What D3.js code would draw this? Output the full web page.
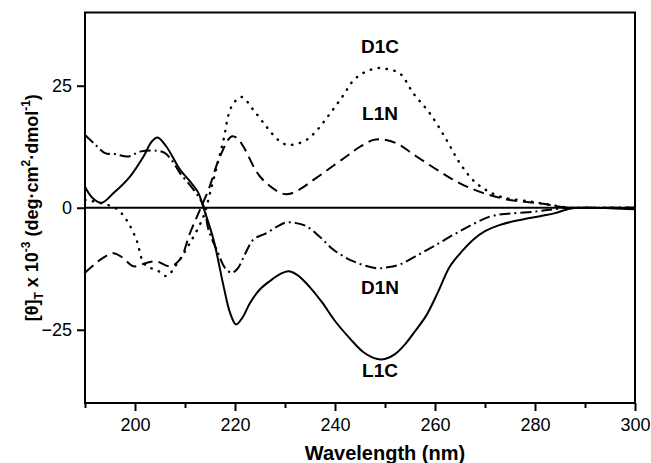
<!DOCTYPE html>
<html>
<head>
<meta charset="utf-8">
<script src="https://cdn.jsdelivr.net/npm/d3@7"></script>
<style>
  body { margin: 0; background: #fff; }
  svg { font-family: "Liberation Sans", Arial, sans-serif; }
  .axis path, .axis line { stroke: #000; stroke-width: 2px; }
  .axis text { font-size: 18px; fill: #000; }
</style>
</head>
<body>
<div id="chart"></div>
<script>
// CD spectra, wavelength (nm) vs [θ] x 10^-3
const l1cWl  = [190, 191.5, 193.3, 195.7, 199, 201.7, 203.3, 204.5, 206.3, 209, 211, 212.7, 213.7, 215.7, 217.7, 219, 220.2, 221.5, 223, 225, 227, 229, 230.7, 232.5, 235, 237.5, 240, 243, 245.7, 248.5, 250, 252, 254, 256, 258.3, 260.5, 263, 265.5, 267.7, 270, 273, 277, 281.7, 284, 287, 290, 295, 300];
const l1cVal = [4.3, 2.0, 1.0, 3.0, 6.4, 10.5, 13.5, 14.4, 12.5, 7.8, 5.4, 3.0, 0, -6.5, -16.0, -21.5, -23.9, -22.5, -19.5, -16.7, -15.0, -13.6, -13.0, -13.8, -16.3, -19.5, -23.2, -26.8, -29.6, -31.0, -31.0, -30.0, -28.0, -25.3, -22.0, -17.5, -12.0, -8.8, -6.5, -4.8, -3.5, -2.5, -1.6, -1.1, -0.2, 0, -0.1, -0.3];

const d1nWl  = [190, 192, 194, 196, 198.7, 201, 204.3, 206, 207.5, 209, 211.7, 213.7, 214.7, 216.5, 218, 219.3, 220.5, 222, 223.7, 226.3, 228.5, 230.3, 232, 234.3, 237, 239.7, 243.7, 248.3, 250.5, 253, 256, 259.7, 265, 271, 275, 280, 283, 287, 290, 300];
const d1nVal = [14.9, 13.0, 11.2, 11.0, 10.5, 11.5, 11.7, 11.2, 9.5, 7.1, 3.7, 0.4, -4.5, -9.0, -12.3, -13.3, -12.5, -9.5, -6.5, -5.2, -3.8, -3.0, -3.1, -3.8, -6.0, -8.6, -11.0, -12.4, -12.2, -11.6, -10.0, -7.9, -4.8, -1.8, -1.2, -0.8, -0.4, 0, 0, 0];

const d1cWl  = [190, 193, 196.3, 198.3, 200.3, 201.7, 203, 204.3, 206.3, 208.3, 211, 213.7, 215, 216.5, 217.7, 219.3, 221.3, 223.7, 226.3, 228.5, 230.3, 232, 234.3, 236.5, 239, 241.5, 243.7, 246, 248.5, 250.5, 253, 255.7, 259, 262.3, 265, 268.3, 273, 279, 283, 287, 290, 300];
const d1cVal = [1.6, 1.0, -0.2, -2.5, -6.6, -11.3, -12.3, -12.7, -14.0, -11.6, -7.2, -1.8, 3.0, 9.0, 13.9, 20.7, 22.7, 20.0, 16.6, 14.0, 12.9, 13.0, 13.9, 16.0, 19.3, 22.8, 26.1, 27.8, 28.6, 28.4, 27.5, 23.4, 19.3, 13.9, 9.1, 5.0, 2.3, 1.3, 0.6, 0, 0, 0];

const l1nWl  = [190, 192, 194, 195.7, 197.5, 199.7, 202.3, 204.3, 207, 209, 211, 213, 214.7, 217, 219.3, 220.5, 221.7, 225, 229, 230.7, 233, 235.7, 241.7, 245, 247.7, 249.5, 252.3, 256.3, 261, 265, 269.7, 275, 281.7, 285, 288, 300];
const l1nVal = [-13.3, -11.5, -10.0, -9.3, -10.2, -12.0, -11.3, -11.0, -12.0, -10.6, -5.2, -0.4, 3.7, 10.5, 14.6, 14.2, 12.5, 6.4, 3.1, 2.8, 3.8, 5.7, 10.1, 12.5, 13.9, 14.0, 13.2, 10.5, 7.4, 5.0, 3.0, 1.6, 0.8, 0.2, 0, 0];

const xMajor = [200, 220, 240, 260, 280, 300];
const xMinor = [190, 210, 230, 250, 270, 290];
const yTicks = [-25, 0, 25];

const series = [
    { name: 'L1C', wl: l1cWl, val: l1cVal, dash: null },
    { name: 'D1N', wl: d1nWl, val: d1nVal, dash: '11,4,2,4' },
    { name: 'D1C', wl: d1cWl, val: d1cVal, dash: '0.5,7.5' },
    { name: 'L1N', wl: l1nWl, val: l1nVal, dash: '11,6' }
];

const labels = [
    { text: 'D1C', wl: 249, v: 31.8 },
    { text: 'L1N', wl: 249, v: 18.0 },
    { text: 'D1N', wl: 249, v: -17.6 },
    { text: 'L1C', wl: 249, v: -34.6 }
];

const W = 651, H = 463;
const margin = { top: 12.5, right: 16, bottom: 60, left: 85 };
const width = W - margin.left - margin.right;
const height = H - margin.top - margin.bottom;

const svg = d3.select('#chart').append('svg')
    .attr('width', W)
    .attr('height', H);

const g = svg.append('g')
    .attr('transform', `translate(${margin.left},${margin.top})`);

const x = d3.scaleLinear().domain([190, 300]).range([0, width]);
const y = d3.scaleLinear().domain([-40, 40]).range([height, 0]);

// frame
g.append('rect')
    .attr('width', width)
    .attr('height', height)
    .attr('fill', 'none')
    .attr('stroke', '#000')
    .attr('stroke-width', 2);

// zero line
g.append('line')
    .attr('x1', 0).attr('x2', width)
    .attr('y1', y(0)).attr('y2', y(0))
    .attr('stroke', '#000')
    .attr('stroke-width', 1.8);

// axes
g.append('g')
    .attr('class', 'axis')
    .attr('transform', `translate(0,${height})`)
    .call(d3.axisBottom(x).tickValues(xMajor).tickSize(8).tickPadding(7).tickSizeOuter(0))
    .call(a => a.select('.domain').remove());

g.append('g')
    .attr('class', 'axis')
    .attr('transform', `translate(0,${height})`)
    .call(d3.axisBottom(x).tickValues(xMinor).tickSize(5).tickFormat('').tickSizeOuter(0))
    .call(a => a.select('.domain').remove());

g.append('g')
    .attr('class', 'axis')
    .call(d3.axisLeft(y).tickValues(yTicks).tickSize(8).tickPadding(5).tickSizeOuter(0))
    .call(a => a.select('.domain').remove());

// curves
const line = d3.line()
    .x(d => x(d[0]))
    .y(d => y(d[1]))
    .curve(d3.curveCatmullRom.alpha(0.5));

series.forEach(s => {
    const pts = s.wl.map((w, i) => [w, s.val[i]]);
    g.append('path')
        .datum(pts)
        .attr('d', line)
        .attr('fill', 'none')
        .attr('stroke', '#000')
        .attr('stroke-width', s.name === 'D1C' ? 2.4 : 2)
        .attr('stroke-linecap', s.name === 'D1C' ? 'round' : 'butt')
        .attr('stroke-dasharray', s.dash);
});

// curve labels
g.selectAll('.lbl')
    .data(labels)
    .enter()
    .append('text')
    .attr('class', 'lbl')
    .attr('x', d => x(d.wl))
    .attr('y', d => y(d.v))
    .attr('text-anchor', 'middle')
    .style('font-size', '19px')
    .style('font-weight', 'bold')
    .text(d => d.text);

// x title
svg.append('text')
    .attr('x', 385)
    .attr('y', 460)
    .attr('text-anchor', 'middle')
    .style('font-size', '20px')
    .style('font-weight', 'bold')
    .text('Wavelength (nm)');

// y title with sub/superscripts
const yt = svg.append('text')
    .attr('transform', `translate(38,${margin.top + height / 2}) rotate(-90)`)
    .attr('text-anchor', 'middle')
    .style('font-size', '18px')
    .style('font-weight', 'bold');
yt.append('tspan').text('[θ]');
yt.append('tspan').attr('dy', 5).style('font-size', '12px').text('T');
yt.append('tspan').attr('dy', -5).text(' x 10');
yt.append('tspan').attr('dy', -8).style('font-size', '12px').text('-3');
yt.append('tspan').attr('dy', 8).text(' (deg·cm');
yt.append('tspan').attr('dy', -8).style('font-size', '12px').text('2');
yt.append('tspan').attr('dy', 8).text('·dmol');
yt.append('tspan').attr('dy', -8).style('font-size', '12px').text('-1');
yt.append('tspan').attr('dy', 8).text(')');
</script>
</body>
</html>
